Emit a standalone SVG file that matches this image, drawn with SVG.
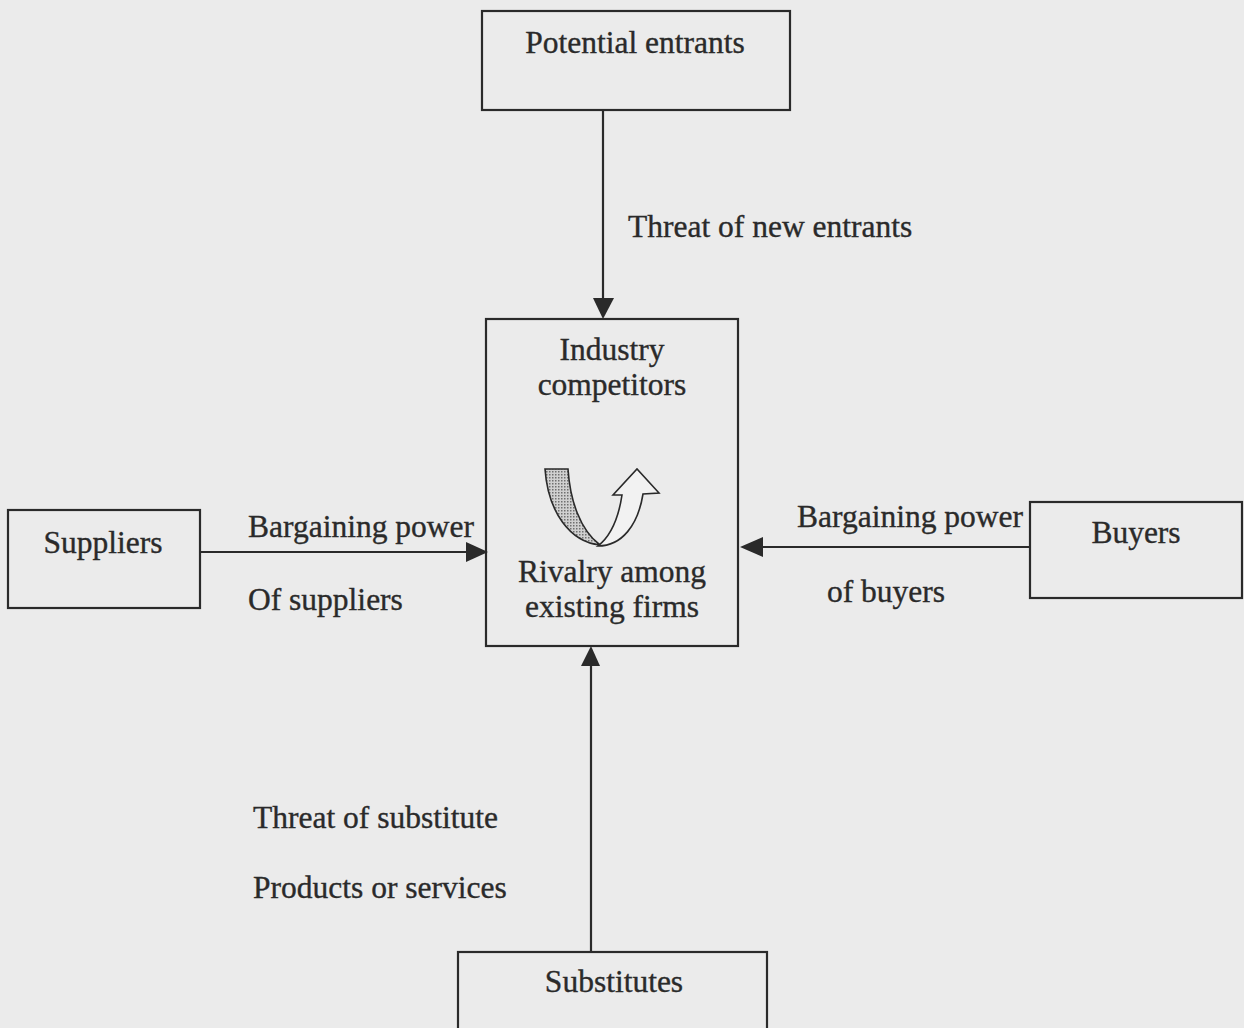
<svg xmlns="http://www.w3.org/2000/svg" width="1244" height="1028" viewBox="0 0 1244 1028">
<style>
.box{fill:none;stroke:#2a2a2a;stroke-width:2.2}
.t{font-family:"Liberation Serif","Times New Roman",serif;font-size:31.5px;fill:#2a2a2a;stroke:#2a2a2a;stroke-width:0.35}
.m{text-anchor:middle}
.ln{stroke:#2a2a2a;stroke-width:2.2;fill:none}
.ah{fill:#2a2a2a}
</style>
<defs>
<pattern id="dots" width="3" height="3" patternUnits="userSpaceOnUse">
<rect width="3" height="3" fill="#d0d0d0"/>
<rect width="1.5" height="1.5" fill="#707070"/>
</pattern>
</defs>
<rect width="1244" height="1028" fill="#ebebeb"/>
<g id="connectors">
<line class="ln" x1="603" y1="110" x2="603" y2="300"/>
<polygon class="ah" points="593,298 614,298 603,319"/>
<line class="ln" x1="200" y1="552" x2="470" y2="552"/>
<polygon class="ah" points="466,542 466,562 488,552"/>
<line class="ln" x1="1030" y1="547" x2="760" y2="547"/>
<polygon class="ah" points="763,537 763,557 740,547"/>
<line class="ln" x1="591" y1="952" x2="591" y2="665"/>
<polygon class="ah" points="581,666 600,666 591,646"/>
<text class="t" x="628" y="237">Threat of new entrants</text>
<text class="t" x="248" y="537">Bargaining power</text>
<text class="t" x="248" y="610">Of suppliers</text>
<text class="t" x="797" y="527">Bargaining power</text>
<text class="t" x="827" y="602">of buyers</text>
<text class="t" x="253" y="828">Threat of substitute</text>
<text class="t" x="253" y="898">Products or services</text>
</g>
<g id="potential-entrants">
<rect class="box" x="482" y="11" width="308" height="99"/>
<text class="t m" x="635" y="53">Potential entrants</text>
</g>
<g id="industry-competitors">
<rect class="box" x="486" y="319" width="252" height="327"/>
<text class="t m" x="612" y="360">Industry</text>
<text class="t m" x="612" y="395">competitors</text>
<path d="M545,469 L568,469 C570,500 580,530 600,545 C570,542 548,512 545,469 Z" fill="url(#dots)" stroke="#2a2a2a" stroke-width="1.6"/>
<path d="M598,546 C612,535 619,515 622,495 L613,495 L637,469 L659,493 L643,494 C638,525 622,546 598,546 Z" fill="#f2f2f2" stroke="#2a2a2a" stroke-width="1.6"/>
<text class="t m" x="612" y="582">Rivalry among</text>
<text class="t m" x="612" y="617">existing firms</text>
</g>
<g id="suppliers">
<rect class="box" x="8" y="510" width="192" height="98"/>
<text class="t m" x="103" y="553">Suppliers</text>
</g>
<g id="buyers">
<rect class="box" x="1030" y="502" width="212" height="96"/>
<text class="t m" x="1136" y="543">Buyers</text>
</g>
<g id="substitutes">
<rect class="box" x="458" y="952" width="309" height="90"/>
<text class="t m" x="614" y="992">Substitutes</text>
</g>
</svg>
